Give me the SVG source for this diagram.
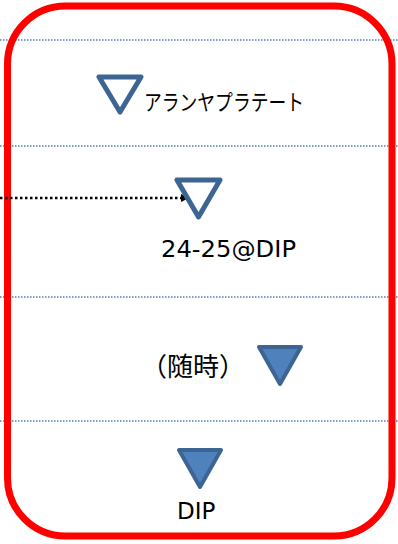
<svg xmlns="http://www.w3.org/2000/svg" width="398" height="544" viewBox="0 0 398 544">
<defs>
<style>
.sep{stroke:#4a7ebb;stroke-width:1.5;stroke-dasharray:1.5 1.5;fill:none}
.tri{stroke:#3d6593;stroke-width:5;stroke-linejoin:round;fill:none}
.trif{stroke:#3d6593;stroke-width:4;stroke-linejoin:round;fill:#4f81bd}
.t{font-family:"Noto Sans CJK JP","Noto Sans",sans-serif;fill:#000}
.l{font-family:"DejaVu Sans","Noto Sans",sans-serif;fill:#000}
</style>
<marker id="ah" markerWidth="8" markerHeight="8" refX="7" refY="4" orient="auto" markerUnits="userSpaceOnUse" viewBox="0 0 8 8">
<path d="M0,0 L8,4 L0,8 Z" fill="#000"/>
</marker>
</defs>
<rect width="398" height="544" fill="#fff"/>
<g id="separators">
<line class="sep" x1="0" y1="40" x2="398" y2="40"/>
<line class="sep" x1="0" y1="146" x2="398" y2="146"/>
<line class="sep" x1="0" y1="297" x2="398" y2="297"/>
<line class="sep" x1="0" y1="421" x2="398" y2="421"/>
</g>
<g id="frame">
<rect x="7.5" y="6" width="384.5" height="530" rx="58" ry="58" fill="none" stroke="#ff0000" stroke-width="7"/>
</g>
<g id="connectors">
<line x1="0" y1="198" x2="188" y2="198" stroke="#000" stroke-width="2.5" stroke-dasharray="2.5 2.5" marker-end="url(#ah)"/>
</g>
<g id="node1">
<path class="tri" d="M99,77 L141,77 L120,112 Z"/>
<text class="t" x="144" y="110" font-size="22" textLength="160" lengthAdjust="spacingAndGlyphs">アランヤプラテート</text>
</g>
<g id="node2">
<path class="tri" d="M177,180 L220,180 L198.5,217 Z"/>
<text class="l" x="161" y="257" font-size="23" textLength="135" lengthAdjust="spacingAndGlyphs">24-25@DIP</text>
</g>
<g id="node3">
<path class="trif" d="M259,347 L301,347 L280,384 Z"/>
<text class="t" x="141" y="376" font-size="26">（随時）</text>
</g>
<g id="node4">
<path class="trif" d="M179,450 L221,450 L200,487 Z"/>
<text class="l" x="177" y="519" font-size="23">DIP</text>
</g>
</svg>
